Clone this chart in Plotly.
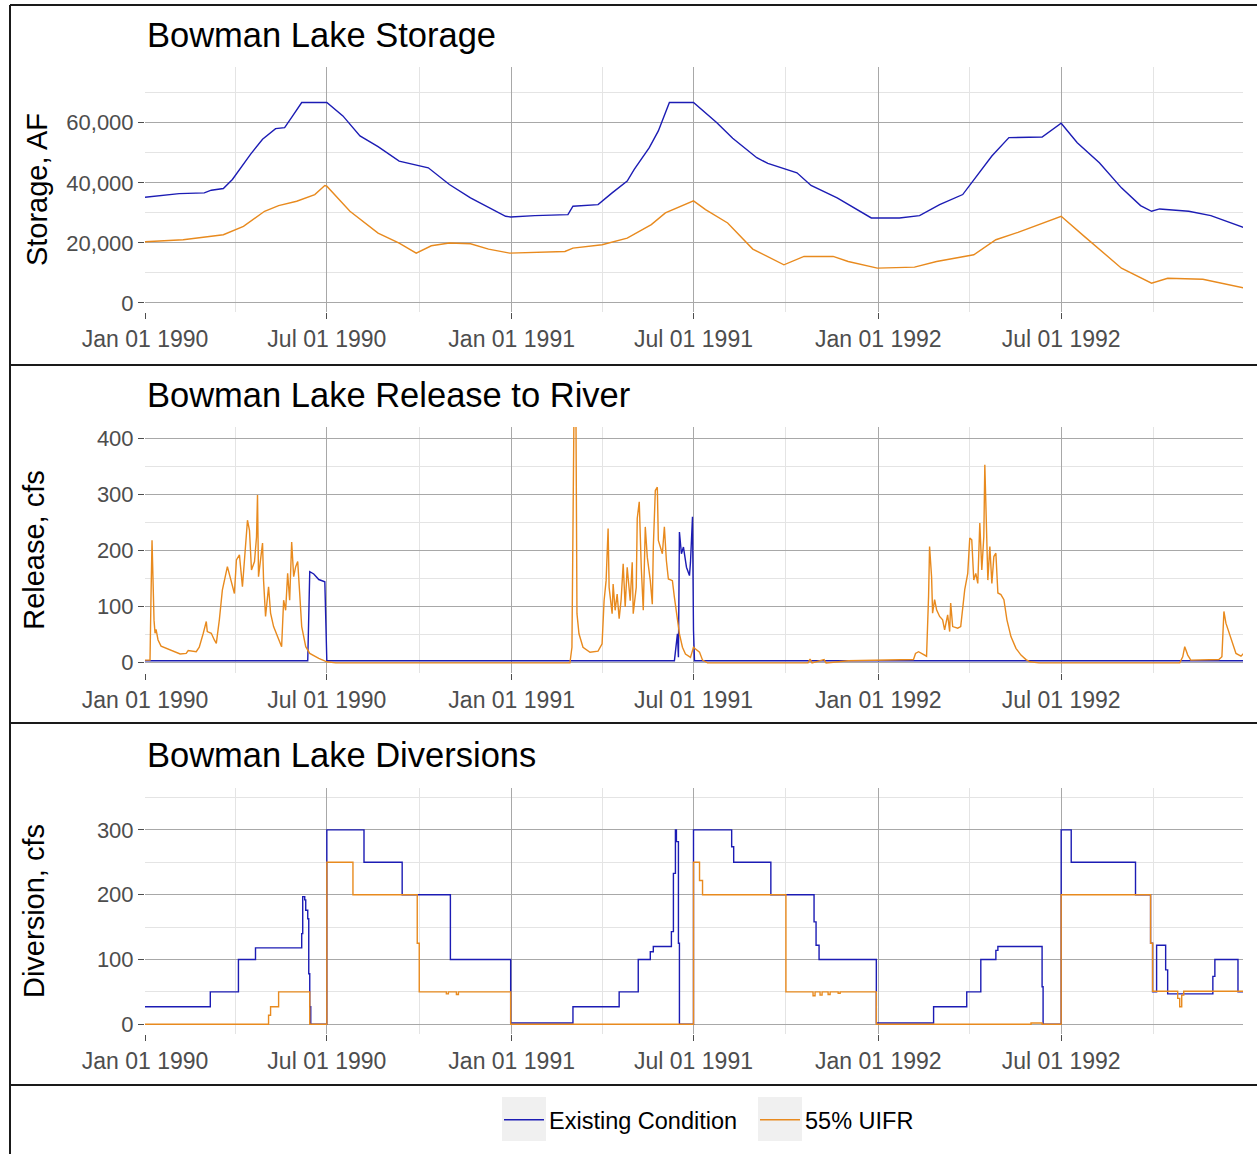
import pandas as pd
import plotly.graph_objects as go

# ---------------- data (day offsets from 1990-01-01) ----------------
START = pd.Timestamp("1990-01-01")

stor_ex_day = [0, 20, 34, 59, 66, 78, 87, 105, 117, 130, 139, 147, 156, 181, 197, 214, 232, 253, 267, 282,
               303, 324, 359, 364, 388, 421, 426, 451, 465, 480, 487, 502, 511, 522, 546, 569, 585, 609, 620,
               638, 649, 663, 689, 723, 751, 771, 791, 814, 825, 843, 860, 893, 912, 928, 950, 972, 991, 1002,
               1010, 1039, 1061, 1095]
stor_ex_val = [35200, 35760, 36400, 36650, 37540, 38100, 41100, 49460, 54470, 58040, 58370, 62270, 66730, 66730,
               62270, 55590, 52020, 47230, 46120, 45000, 39440, 34980, 28850, 28630, 29080, 29400, 32200, 32750,
               36650, 40550, 44450, 51700, 57260, 66730, 66730, 60050, 54800, 48350, 46450, 44450, 43330, 39100,
               34980, 28300, 28300, 29080, 32750, 36090, 41100, 48900, 55030, 55260, 59820, 53360, 46680, 38320,
               32420, 30520, 31300, 30520, 29080, 24950]

stor_uf_day = [0, 38, 78, 98, 119, 133, 151, 169, 179, 181, 204, 232, 253, 270, 285, 303, 324, 342, 363, 381,
               418, 426, 455, 480, 504, 518, 539, 546, 558, 580, 605, 636, 656, 685, 700, 729, 766, 788, 825,
               847, 869, 912, 935, 972, 1002, 1018, 1053, 1095]
stor_uf_val = [20390, 21050, 22720, 25510, 30520, 32420, 33870, 36090, 39100, 38880, 30520, 23280, 19940, 16600,
               19050, 19940, 19720, 17940, 16600, 16820, 17160, 18270, 19380, 21610, 26070, 29970, 32800, 34000,
               31080, 26630, 17940, 12700, 15490, 15490, 13810, 11590, 11920, 13810, 16040, 21050, 23500, 28850,
               22170, 11590, 6570, 8240, 7910, 4900]

rel_ex_day = [0, 162, 163, 164, 168, 173, 179, 180, 181, 527, 528, 530, 531, 532, 534, 536, 539, 542, 543, 545,
              546, 547, 1095]
rel_ex_val = [3, 3, 82, 162, 158, 148, 144, 76, 3, 3, 21, 51, 9, 233, 194, 206, 170, 155, 179, 260, 57, 3, 3]

rel_uf_day = [0, 5, 6, 7, 9, 10, 11, 13, 16, 25, 35, 41, 43, 51, 54, 58, 61, 62, 66, 69, 71, 74, 77, 82, 84, 86,
              89, 91, 94, 97, 100, 102, 104, 106, 109, 111, 112, 113, 115, 117, 118, 120, 123, 125, 128, 132,
              136, 138, 140, 142, 144, 146, 148, 150, 152, 154, 156, 160, 164, 173, 181, 190, 423, 425, 427,
              429, 430, 432, 436, 443, 451, 455, 457, 459, 461, 462, 465, 466, 468, 470, 472, 474, 476, 478,
              480, 483, 485, 486, 489, 490, 492, 494, 496, 498, 500, 503, 505, 506, 508, 510, 511, 513, 515,
              517, 519, 521, 525, 527, 530, 532, 535, 538, 543, 546, 548, 552, 555, 560, 660, 662, 664, 676,
              678, 700, 765, 767, 770, 778, 780, 781, 783, 784, 786, 788, 791, 794, 796, 799, 801, 802, 804,
              809, 812, 816, 819, 821, 823, 825, 827, 829, 831, 833, 835, 836, 837, 839, 841, 843, 845, 847,
              849, 852, 855, 858, 862, 867, 872, 877, 881, 890, 1030, 1033, 1035, 1038, 1041, 1066, 1069,
              1072, 1074, 1076, 1086, 1091, 1095]
rel_uf_val = [4, 4, 120, 218, 75, 52, 59, 40, 29, 22, 15, 16, 21, 19, 27, 52, 73, 55, 52, 40, 34, 76, 129, 171,
              156, 141, 123, 183, 192, 135, 207, 254, 236, 165, 180, 224, 299, 153, 183, 213, 147, 82, 135, 88,
              64, 46, 28, 111, 93, 159, 111, 215, 153, 171, 180, 123, 64, 28, 16, 7, 1, -1, -1, 27, 440, 440,
              87, 51, 27, 18, 20, 33, 110, 146, 239, 134, 87, 140, 93, 122, 78, 113, 176, 99, 170, 110, 179,
              87, 134, 257, 287, 170, 93, 242, 188, 146, 104, 206, 307, 313, 218, 206, 194, 242, 182, 149, 146,
              116, 75, 51, 27, 15, 9, 27, 24, 18, 4, -1, -1, 6, -1, 5, -1, 3, 5, 16, 19, 11, 118, 207, 153, 88,
              112, 94, 82, 76, 58, 85, 55, 106, 64, 61, 64, 130, 159, 222, 219, 147, 159, 141, 249, 165, 225,
              353, 285, 147, 207, 141, 189, 195, 124, 121, 112, 76, 46, 25, 13, 5, 1, -1, -1, 10, 28, 13, 4,
              5, 5, 10, 91, 70, 16, 11, 19, 19]

div_ex_day = [0, 65, 93, 110, 156, 157, 159, 160, 162, 163, 164, 165, 181, 218, 256, 304, 364, 426, 472, 491,
              503, 506, 524, 526, 528, 529, 531, 532, 546, 584, 586, 623, 666, 668, 671, 728, 785, 818, 832,
              847, 849, 893, 894, 912, 922, 986, 1001, 1003, 1007, 1016, 1018, 1063, 1065, 1088, 1095]
div_ex_val = [27, 50, 100, 118, 140, 197, 192, 176, 163, 78, 27, 0, 300, 250, 200, 100, 2, 27, 50, 100,
              112, 120, 143, 233, 300, 282, 125, 0, 300, 274, 250, 200, 158, 122, 100, 2, 27, 50, 100,
              114, 120, 58, 0, 300, 250, 200, 125, 50, 122, 84, 47, 74, 100, 50, 50]

div_uf_day = [0, 123, 125, 133, 164, 181, 207, 271, 273, 300, 302, 310, 312, 364, 546, 552, 555, 638, 665, 667,
              672, 674, 680, 682, 690, 692, 728, 882, 893, 912, 1001, 1003, 1028, 1030, 1032, 1034, 1094, 1095]
div_uf_val = [0, 14, 27, 50, 0, 250, 200, 125, 50, 47, 50, 46, 50, 0, 250, 222, 200, 50, 44, 50,
              45, 50, 46, 50, 48, 50, 0, 2, 0, 200, 125, 51, 40, 27, 45, 51, 0, 0]

SERIES = ["Existing Condition", "55% UIFR"]
COLORS = {"Existing Condition": "#1C1CB4", "55% UIFR": "#E88A1E"}
TITLES = ["Bowman Lake Storage", "Bowman Lake Release to River", "Bowman Lake Diversions"]
YTITLES = ["Storage, AF", "Release, cfs", "Diversion, cfs"]


def dates(days):
    return START + pd.to_timedelta(days, unit="D")


W, H = 1257, 1154
FONT = "Liberation Sans, Arial, sans-serif"


def py(p):
    return 1 - p / H


fig = go.Figure()

panels = [
    (stor_ex_day, stor_ex_val, stor_uf_day, stor_uf_val, "linear"),
    (rel_ex_day, rel_ex_val, rel_uf_day, rel_uf_val, "linear"),
    (div_ex_day, div_ex_val, div_uf_day, div_uf_val, "hv"),
]
for i, (ed, ev, ud, uv, shape) in enumerate(panels):
    ax = "" if i == 0 else str(i + 1)
    fig.add_trace(go.Scatter(x=dates(ed), y=ev, mode="lines", name=SERIES[0],
                             line=dict(color=COLORS[SERIES[0]], width=1.4, shape=shape),
                             xaxis="x" + ax, yaxis="y" + ax, showlegend=(i == 0), legendgroup="a"))
    fig.add_trace(go.Scatter(x=dates(ud), y=uv, mode="lines", name=SERIES[1],
                             line=dict(color=COLORS[SERIES[1]], width=1.4, shape=shape),
                             xaxis="x" + ax, yaxis="y" + ax, showlegend=(i == 0), legendgroup="b"))

plot_px = [(67, 312), (427, 673), (788, 1034)]
yranges = [[-3000, 78540], [-19, 420.5], [-15, 364.7]]
ydt = [20000, 100, 100]
ymin = [10000, 50, 50]
yfmt = [",d", "d", "d"]
ystandoff = [10, 43, 43]
xdom = [145 / W, 1243 / W]

layout = dict(width=W, height=H, margin=dict(l=0, r=0, t=0, b=0, autoexpand=False),
              paper_bgcolor="white", plot_bgcolor="white",
              font=dict(family=FONT, color="#000000"))

for i in range(3):
    ax = "" if i == 0 else str(i + 1)
    top, bot = plot_px[i]
    layout["xaxis" + ax] = dict(
        domain=xdom, anchor="y" + ax, type="date", automargin=False,
        range=["1990-01-01", "1992-12-29"],
        tick0="1990-01-01", dtick="M6", tickformat="%b %d %Y",
        ticks="outside", ticklen=6, tickwidth=1.3, tickcolor="#4D4D4D",
        tickfont=dict(size=23, color="#4D4D4D", family=FONT),
        showgrid=True, gridcolor="#A8A8A8", gridwidth=1.3,
        minor=dict(tick0="1990-01-01", dtick="M3", showgrid=True, gridcolor="#E4E4E4", gridwidth=1),
        zeroline=False, showline=False,
    )
    layout["yaxis" + ax] = dict(
        domain=[py(bot), py(top)], anchor="x" + ax, automargin=False,
        range=yranges[i], dtick=ydt[i], tick0=0, tickformat=yfmt[i],
        ticks="outside", ticklen=6, tickwidth=1.3, tickcolor="#4D4D4D",
        tickfont=dict(size=22, color="#4D4D4D", family=FONT),
        showgrid=True, gridcolor="#A8A8A8", gridwidth=1.3,
        minor=dict(tick0=0, dtick=ymin[i], showgrid=True, gridcolor="#E4E4E4", gridwidth=1),
        zeroline=False, showline=False,
        title=dict(text=YTITLES[i], font=dict(size=29, color="#000000", family=FONT), standoff=ystandoff[i]),
    )

title_y = [35, 395, 755]
annotations = []
for i in range(3):
    annotations.append(dict(text=TITLES[i], x=145 / W, y=py(title_y[i]), xref="paper", yref="paper",
                            xanchor="left", yanchor="middle", showarrow=False,
                            font=dict(size=34.5, color="#000000", family=FONT)))
layout["annotations"] = annotations

# panel frames
shapes = []
for yy in [5, 365, 723, 1085]:
    shapes.append(dict(type="line", xref="paper", yref="paper", x0=10 / W, x1=1.0, y0=py(yy), y1=py(yy),
                       line=dict(color="#1a1a1a", width=2)))
shapes.append(dict(type="line", xref="paper", yref="paper", x0=10 / W, x1=10 / W, y0=0, y1=py(5),
                   line=dict(color="#1a1a1a", width=2)))
# legend key backgrounds
for x0 in [502, 758]:
    shapes.append(dict(type="rect", xref="paper", yref="paper", x0=x0 / W, x1=(x0 + 44) / W,
                       y0=py(1141), y1=py(1097), fillcolor="#F0F0F0", line=dict(width=0), layer="below"))
layout["shapes"] = shapes

layout["legend"] = dict(orientation="h", x=499 / W, xanchor="left", y=py(1120), yanchor="middle",
                        font=dict(size=23.5, color="#000000", family=FONT), bgcolor="rgba(0,0,0,0)",
                        itemwidth=40, tracegroupgap=0, entrywidth=201, entrywidthmode="pixels")

fig.update_layout(**layout)
fig.write_html("out.html", config={"displayModeBar": False},
               post_script="document.body.style.margin='0';document.body.style.overflow='hidden';")
